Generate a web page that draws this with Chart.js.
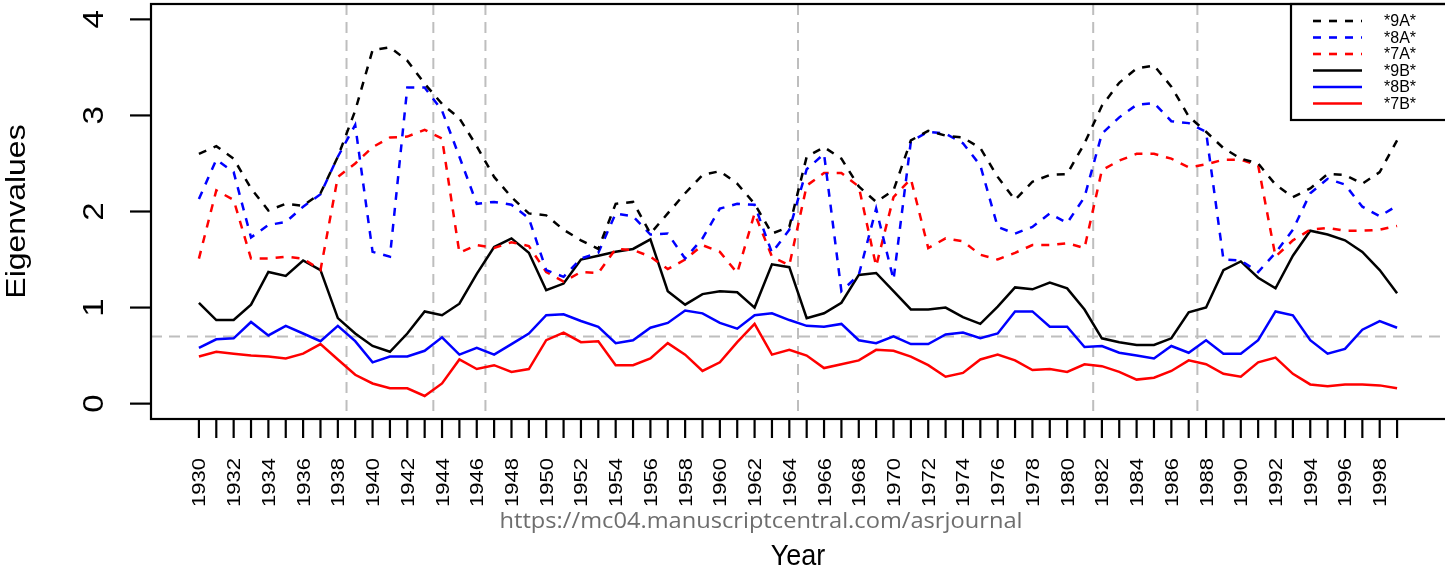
<!DOCTYPE html>
<html>
<head>
<meta charset="utf-8">
<script src="https://cdn.jsdelivr.net/npm/chart.js@4.4.1/dist/chart.umd.min.js"></script>
<style>
body { margin: 0; background: #fff; }
</style>
</head>
<body>
<canvas id="eigenChart" width="1445" height="569"></canvas>
<script>
// years on the x axis
const years = [1930, 1931, 1932, 1933, 1934, 1935, 1936, 1937, 1938, 1939,
    1940, 1941, 1942, 1943, 1944, 1945, 1946, 1947, 1948, 1949,
    1950, 1951, 1952, 1953, 1954, 1955, 1956, 1957, 1958, 1959,
    1960, 1961, 1962, 1963, 1964, 1965, 1966, 1967, 1968, 1969,
    1970, 1971, 1972, 1973, 1974, 1975, 1976, 1977, 1978, 1979,
    1980, 1981, 1982, 1983, 1984, 1985, 1986, 1987, 1988, 1989,
    1990, 1991, 1992, 1993, 1994, 1995, 1996, 1997, 1998, 1999];

// labelled ticks (every other year)
const yearLabels = [1930, 1932, 1934, 1936, 1938, 1940, 1942, 1944, 1946, 1948,
    1950, 1952, 1954, 1956, 1958, 1960, 1962, 1964, 1966, 1968,
    1970, 1972, 1974, 1976, 1978, 1980, 1982, 1984, 1986, 1988,
    1990, 1992, 1994, 1996, 1998];
const yTicks = [0, 1, 2, 3, 4];

// dashed reference lines
const breakYears = [1938.5, 1943.5, 1946.5, 1964.5, 1981.5, 1987.5];
const cutoff = 0.7;

// eigenvalue series
const s9A = [2.60, 2.68, 2.55, 2.24, 2.01, 2.08, 2.06, 2.19, 2.57, 3.05,
    3.68, 3.71, 3.57, 3.33, 3.12, 2.97, 2.68, 2.36, 2.15, 1.98,
    1.96, 1.81, 1.70, 1.61, 2.08, 2.10, 1.77, 1.98, 2.19, 2.38,
    2.42, 2.29, 2.08, 1.77, 1.84, 2.57, 2.67, 2.55, 2.26, 2.10,
    2.22, 2.74, 2.84, 2.79, 2.77, 2.66, 2.36, 2.12, 2.31, 2.38,
    2.39, 2.71, 3.10, 3.34, 3.49, 3.52, 3.30, 2.99, 2.83, 2.66,
    2.55, 2.50, 2.28, 2.15, 2.24, 2.39, 2.38, 2.29, 2.41, 2.74];
const s8A = [2.13, 2.54, 2.41, 1.73, 1.86, 1.89, 2.05, 2.18, 2.57, 2.90,
    1.58, 1.53, 3.29, 3.29, 3.05, 2.57, 2.08, 2.10, 2.07, 1.93,
    1.39, 1.32, 1.51, 1.57, 1.98, 1.95, 1.76, 1.77, 1.51, 1.72,
    2.03, 2.08, 2.07, 1.57, 1.81, 2.44, 2.60, 1.17, 1.34, 2.03,
    1.29, 2.73, 2.83, 2.81, 2.71, 2.48, 1.84, 1.77, 1.84, 1.98,
    1.88, 2.15, 2.81, 2.98, 3.11, 3.13, 2.94, 2.92, 2.83, 1.50,
    1.49, 1.37, 1.57, 1.81, 2.19, 2.34, 2.28, 2.05, 1.95, 2.06];
const s7A = [1.51, 2.22, 2.12, 1.51, 1.51, 1.53, 1.51, 1.39, 2.36, 2.50,
    2.67, 2.77, 2.78, 2.85, 2.76, 1.57, 1.65, 1.62, 1.68, 1.64,
    1.37, 1.27, 1.37, 1.36, 1.61, 1.60, 1.53, 1.40, 1.50, 1.65,
    1.58, 1.36, 1.98, 1.53, 1.44, 2.27, 2.40, 2.40, 2.26, 1.43,
    2.15, 2.34, 1.62, 1.72, 1.69, 1.55, 1.50, 1.57, 1.65, 1.65,
    1.67, 1.62, 2.43, 2.53, 2.60, 2.60, 2.55, 2.46, 2.49, 2.54,
    2.54, 2.48, 1.53, 1.70, 1.81, 1.83, 1.80, 1.80, 1.81, 1.85];
const s9B = [1.05, 0.87, 0.87, 1.03, 1.37, 1.33, 1.49, 1.39, 0.89, 0.73,
    0.60, 0.54, 0.73, 0.96, 0.92, 1.04, 1.35, 1.63, 1.72, 1.57,
    1.18, 1.25, 1.50, 1.54, 1.58, 1.61, 1.71, 1.17, 1.03, 1.14,
    1.17, 1.16, 1.00, 1.45, 1.42, 0.89, 0.94, 1.05, 1.34, 1.36,
    1.17, 0.98, 0.98, 1.00, 0.90, 0.83, 1.01, 1.21, 1.19, 1.26,
    1.20, 0.98, 0.68, 0.64, 0.61, 0.61, 0.68, 0.95, 1.00, 1.39,
    1.48, 1.31, 1.20, 1.54, 1.80, 1.76, 1.70, 1.58, 1.39, 1.15];
const s8B = [0.58, 0.67, 0.68, 0.85, 0.71, 0.81, 0.73, 0.65, 0.81, 0.65,
    0.43, 0.49, 0.49, 0.55, 0.69, 0.51, 0.58, 0.51, 0.62, 0.73,
    0.92, 0.93, 0.86, 0.80, 0.63, 0.66, 0.79, 0.84, 0.97, 0.94,
    0.84, 0.78, 0.92, 0.94, 0.87, 0.81, 0.80, 0.83, 0.66, 0.63,
    0.70, 0.62, 0.62, 0.72, 0.74, 0.68, 0.73, 0.96, 0.96, 0.80,
    0.80, 0.59, 0.60, 0.53, 0.50, 0.47, 0.60, 0.53, 0.66, 0.52,
    0.52, 0.66, 0.96, 0.92, 0.66, 0.52, 0.57, 0.77, 0.86, 0.79];
const s7B = [0.49, 0.54, 0.52, 0.50, 0.49, 0.47, 0.52, 0.62, 0.46, 0.30,
    0.21, 0.16, 0.16, 0.08, 0.21, 0.46, 0.36, 0.40, 0.33, 0.36,
    0.66, 0.74, 0.64, 0.65, 0.40, 0.40, 0.47, 0.63, 0.51, 0.34,
    0.43, 0.64, 0.83, 0.51, 0.56, 0.50, 0.37, 0.41, 0.45, 0.56,
    0.55, 0.49, 0.40, 0.28, 0.32, 0.46, 0.51, 0.45, 0.35, 0.36,
    0.33, 0.41, 0.39, 0.33, 0.25, 0.27, 0.34, 0.45, 0.41, 0.31,
    0.28, 0.43, 0.48, 0.31, 0.20, 0.18, 0.20, 0.20, 0.19, 0.16];

const seriesNames = ['*9A*', '*8A*', '*7A*', '*9B*', '*8B*', '*7B*'];
const seriesValues = [s9A, s8A, s7A, s9B, s8B, s7B];
const seriesColors = ['#000000', '#0000ff', '#ff0000', '#000000', '#0000ff', '#ff0000'];
const DASH = [8, 8];
const FONT = '"Liberation Sans", Arial, sans-serif';

const toPoints = vals => vals.map((v, i) => ({ x: years[i], y: v }));

// rotated text, squeezed horizontally like the reference image
function vtext(ctx, str, x, y, font, sx, align) {
    ctx.save();
    ctx.translate(x, y);
    ctx.scale(sx, 1);
    ctx.rotate(-Math.PI / 2);
    ctx.font = font;
    ctx.textAlign = align;
    ctx.textBaseline = 'alphabetic';
    ctx.fillText(str, 0, 0);
    ctx.restore();
}

function htext(ctx, str, x, y, font, sx) {
    ctx.save();
    ctx.translate(x, y);
    ctx.scale(sx, 1);
    ctx.font = font;
    ctx.textAlign = 'center';
    ctx.textBaseline = 'alphabetic';
    ctx.fillText(str, 0, 0);
    ctx.restore();
}

function seg(ctx, x1, y1, x2, y2) {
    ctx.beginPath();
    ctx.moveTo(x1, y1);
    ctx.lineTo(x2, y2);
    ctx.stroke();
}

const rPlot = {
    id: 'rPlot',
    beforeDatasetsDraw(chart) {
        const { ctx, chartArea: a, scales: { x, y } } = chart;
        ctx.save();
        ctx.strokeStyle = '#bebebe';
        ctx.lineWidth = 2;
        ctx.setLineDash([11, 7]);
        breakYears.forEach(b => {
            const px = x.getPixelForValue(b);
            seg(ctx, px, a.top, px, a.bottom);
        });
        const py = y.getPixelForValue(cutoff);
        seg(ctx, a.left, py, a.right, py);
        ctx.restore();
    },
    afterDraw(chart) {
        const { ctx, chartArea: a, scales: { x, y } } = chart;
        ctx.save();
        ctx.strokeStyle = '#000';
        ctx.fillStyle = '#000';
        ctx.lineWidth = 2.2;

        // box
        ctx.strokeRect(a.left, a.top, a.right - a.left + 2, a.bottom - a.top);

        // x ticks + labels
        years.forEach(yr => {
            const px = x.getPixelForValue(yr);
            seg(ctx, px, a.bottom, px, a.bottom + 19);
        });
        yearLabels.forEach(yr => {
            const px = x.getPixelForValue(yr);
            vtext(ctx, String(yr), px + 6.5, 458, '22px ' + FONT, 0.84, 'right');
        });

        // y ticks + labels
        yTicks.forEach(t => {
            const py = y.getPixelForValue(t);
            seg(ctx, a.left - 21, py, a.left, py);
            vtext(ctx, String(t), 103, py, '33px ' + FONT, 0.9, 'center');
        });

        // axis titles
        vtext(ctx, 'Eigenvalues', 25, (a.top + a.bottom) / 2, '32px ' + FONT, 0.88, 'center');
        htext(ctx, 'Year', (a.left + a.right) / 2, 565, '30px ' + FONT, 0.9);

        // watermark
        ctx.fillStyle = '#6e6e6e';
        ctx.font = '22px "Open Sans", sans-serif';
        const url = 'https://mc04.manuscriptcentral.com/asrjournal';
        const w = ctx.measureText(url).width;
        htext(ctx, url, 761, 528, '22px "Open Sans", sans-serif', 523 / w);

        // legend
        ctx.fillStyle = '#000';
        ctx.strokeStyle = '#000';
        ctx.lineWidth = 2.2;
        ctx.strokeRect(1291, a.top, 200, 116);
        seriesNames.forEach((name, i) => {
            const ry = 21 + i * 16.5;
            ctx.save();
            ctx.strokeStyle = seriesColors[i];
            ctx.lineWidth = 2.6;
            ctx.setLineDash(i < 3 ? DASH : []);
            seg(ctx, 1313, ry, 1362, ry);
            ctx.restore();
            ctx.font = '16px ' + FONT;
            ctx.textAlign = 'left';
            ctx.textBaseline = 'middle';
            ctx.fillText(name, 1384, ry + 1);
        });
        ctx.restore();
    }
};

new Chart(document.getElementById('eigenChart'), {
    type: 'line',
    data: {
        datasets: seriesNames.map((name, i) => ({
            label: name,
            data: toPoints(seriesValues[i]),
            borderColor: seriesColors[i],
            borderWidth: 2.5,
            borderDash: i < 3 ? DASH : [],
            pointRadius: 0,
            tension: 0,
            fill: false
        }))
    },
    options: {
        responsive: false,
        animation: false,
        layout: { padding: { left: 151, right: 0, top: 4, bottom: 150 } },
        plugins: { legend: { display: false }, tooltip: { enabled: false } },
        scales: {
            x: { type: 'linear', min: 1927.24, max: 2001.76, display: false },
            y: { type: 'linear', min: -0.16, max: 4.16, display: false }
        }
    },
    plugins: [rPlot]
});
</script>
</body>
</html>
